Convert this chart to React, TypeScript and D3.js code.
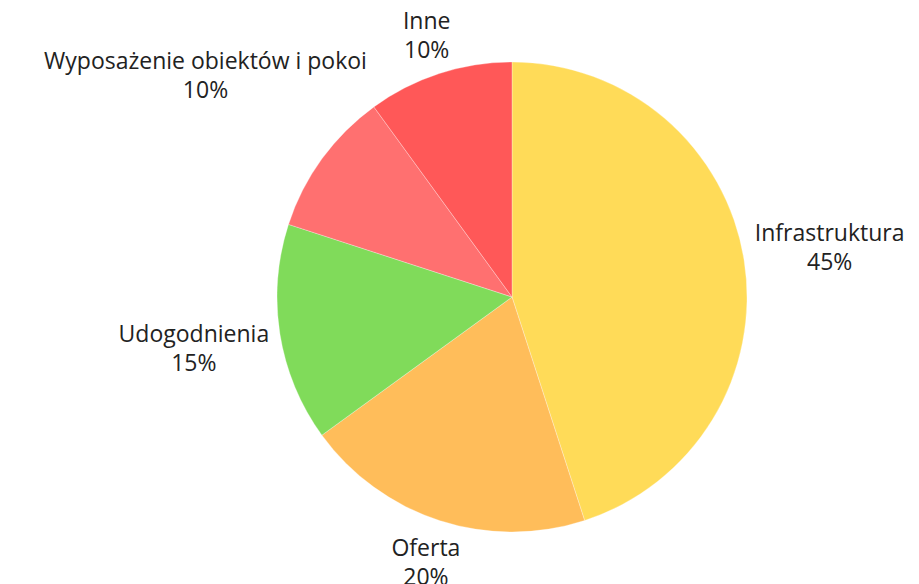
import React, { useEffect, useRef } from 'react';
import * as d3 from 'd3';

const categories = ['Infrastruktura', 'Oferta', 'Udogodnienia', 'Wyposażenie obiektów i pokoi', 'Inne'];
const shares = [45, 20, 15, 10, 10];
const colors = ['#FFDB58', '#FFBD5A', '#80DB5A', '#FF7070', '#FF5858'];

const App: React.FC = () => {
  const ref = useRef<SVGSVGElement>(null);

  useEffect(() => {
    if (!ref.current) return;
    document.body.style.margin = '0';
    const svg = d3.select(ref.current);
    svg.selectAll('*').remove();

    const width = 919;
    const height = 584;
    const cx = 512;
    const cy = 297;
    const r = 235;
    const pad = 9;

    svg.attr('width', width).attr('height', height);

    const data = categories.map((c, i) => ({ label: c, value: shares[i], color: colors[i] }));
    const pie = d3.pie<typeof data[number]>().value(d => d.value).sort(null);
    const arcs = pie(data);
    const arc = d3.arc<d3.PieArcDatum<typeof data[number]>>().innerRadius(0).outerRadius(r);

    const g = svg.append('g').attr('transform', `translate(${cx},${cy})`);

    g.selectAll('path.slice')
      .data(arcs)
      .enter().append('path')
      .attr('class', 'slice')
      .attr('d', arc)
      .attr('fill', d => d.data.color)
      .attr('stroke', '#fff')
      .attr('stroke-width', 0.3);

    // labels: pushed out along the mid angle until the box clears the pie
    const lineH = 29;
    arcs.forEach(a => {
      const mid = (a.startAngle + a.endAngle) / 2;
      const vx = Math.sin(mid);
      const vy = -Math.cos(mid);
      const t = g.append('text')
        .attr('text-anchor', 'middle')
        .style('font-family', '"Open Sans", sans-serif')
        .style('font-size', '23px')
        .attr('fill', '#222');
      t.append('tspan').attr('x', 0).attr('dy', 0).text(a.data.label);
      t.append('tspan').attr('x', 0).attr('dy', lineH).text(`${a.data.value}%`);

      const bb = (t.node() as SVGTextElement).getBBox();
      const w = bb.width;
      const h = bb.height - 8;
      const ox = bb.x + w / 2;
      const oy = bb.y + bb.height / 2;

      const nearest = (d: number) => {
        const bx = vx * d;
        const by = vy * d;
        const px = Math.max(bx - w / 2, Math.min(0, bx + w / 2));
        const py = Math.max(by - h / 2, Math.min(0, by + h / 2));
        return Math.hypot(px, py);
      };
      let lo = 0;
      let hi = 800;
      for (let i = 0; i < 50; i++) {
        const m = (lo + hi) / 2;
        if (nearest(m) < r + pad) lo = m; else hi = m;
      }
      const bx = vx * hi;
      const by = vy * hi;
      t.attr('transform', `translate(${bx - ox},${by - oy})`);
    });
  }, []);

  return <svg ref={ref} style={{ display: 'block' }}></svg>;
};

export default App;
